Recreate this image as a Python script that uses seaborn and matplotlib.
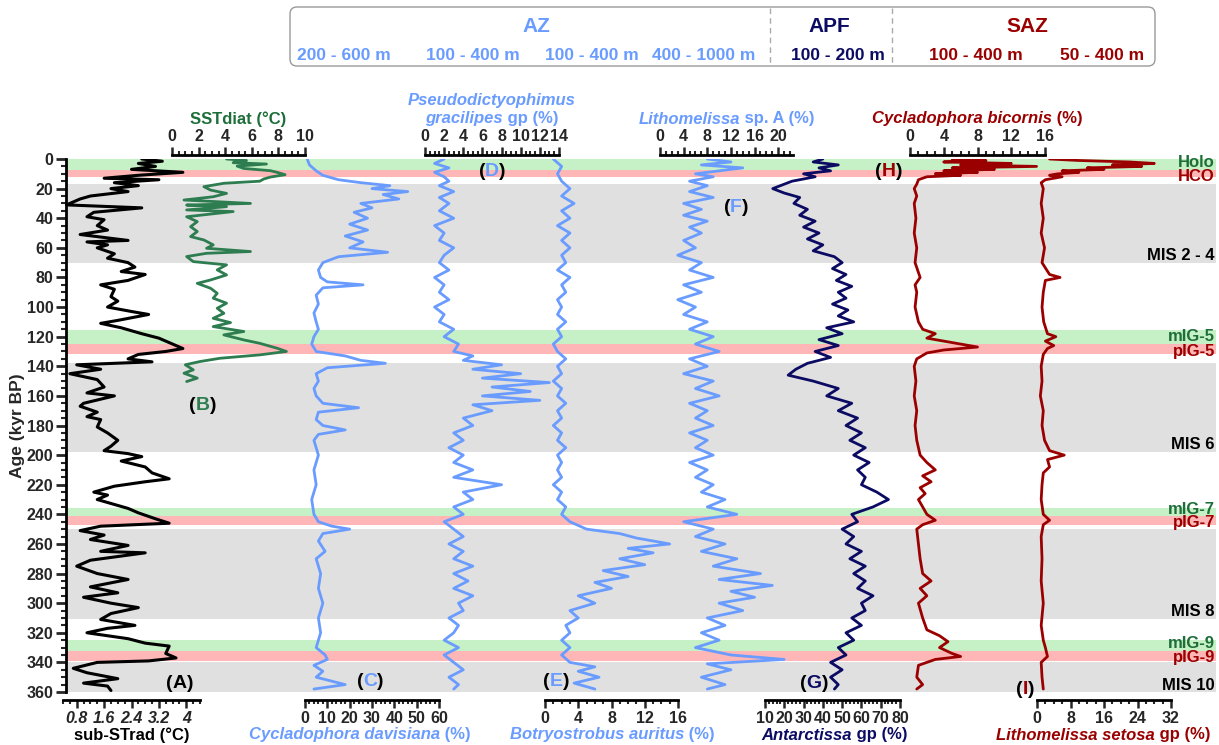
import numpy as np
import pandas as pd
import matplotlib
matplotlib.use('Agg')
import matplotlib.pyplot as plt
import seaborn as sns
from matplotlib.patches import FancyBboxPatch
from matplotlib.lines import Line2D
from matplotlib.ticker import MultipleLocator
from matplotlib.transforms import IdentityTransform, blended_transform_factory

# ---------------- data (ages in kyr BP) ----------------
age_a = [0, 1.5, 3, 5, 7, 9, 11, 13, 14, 16, 18, 20, 22, 25, 27, 31, 33, 36, 39, 41, 45, 48, 51, 55, 56,
         58, 60, 64, 67, 70, 73, 76, 78, 82, 85, 88, 93, 96, 100, 103, 105, 109, 111, 114, 118, 121, 124,
         128, 130, 132, 135, 137, 139, 142, 145, 149, 154, 158, 160, 165, 167, 171, 174, 176, 181, 185,
         190, 194, 197, 199, 201, 204, 208, 212, 216, 218, 221, 225, 227, 230, 234, 236, 239, 243, 246,
         248, 251, 254, 257, 261, 265, 266, 271, 275, 280, 284, 289, 293, 296, 300, 303, 307, 311, 315,
         317, 320, 324, 327, 329, 334, 337, 339, 340, 344, 347, 351, 354, 356, 359]
sst_a = [2.7, 3.3, 2.6, 3.1, 2.4, 3.9, 2.6, 1.6, 3.2, 1.9, 2.6, 1.8, 2.3, 1.2, 0.9, 0.5, 2.7, 1.3, 1.1, 1.6,
         1.4, 1.7, 0.9, 2.3, 1.1, 1.7, 1.4, 1.9, 1.7, 2.3, 2.5, 2.1, 2.8, 2.3, 1.5, 1.9, 1.8, 2.0, 1.7,
         2.4, 2.9, 2.0, 1.5, 2.1, 2.7, 3.2, 3.5, 3.9, 3.4, 2.6, 2.3, 3.0, 0.8, 1.5, 0.6, 1.4, 1.6, 1.1,
         1.9, 1.0, 0.9, 1.4, 1.1, 1.5, 1.4, 1.7, 2.0, 1.8, 1.6, 2.3, 2.7, 2.1, 2.8, 3.0, 3.5, 2.8, 1.9,
         1.3, 1.7, 1.4, 2.0, 2.3, 2.6, 3.1, 3.5, 1.5, 0.9, 1.6, 1.2, 2.3, 1.5, 2.8, 1.2, 0.8, 1.4, 2.3,
         1.2, 2.0, 1.0, 1.8, 2.6, 1.8, 1.5, 2.5, 1.7, 1.1, 2.3, 2.8, 3.5, 3.4, 3.7, 2.9, 1.4, 0.7, 1.1,
         2.0, 1.0, 1.7, 1.8]

age_b = [0, 1, 2.5, 3.4, 4.8, 6.4, 7.9, 9, 10.6, 12.2, 13.5, 15, 16.4, 18.7, 21, 23.2, 25.5, 27.7, 30,
         31.1, 32.2, 34.4, 35.5, 39, 42.3, 45.7, 49, 52.4, 54.7, 58, 60.3, 62.5, 63.7, 65.9, 69.3, 71.5,
         74.9, 78.3, 81.7, 84, 87.3, 90.7, 94, 97.4, 100.8, 104.2, 107.6, 110.5, 113.2, 116.5, 118.8,
         122.2, 124.5, 127.8, 130, 132.3, 134.6, 136.8, 139, 142.4, 144.7, 148, 150.3]
sst_b = [4.1, 5.6, 4.6, 7.1, 4.9, 5.4, 7.4, 7.9, 8.5, 7.4, 6.9, 6.6, 3.9, 2.4, 2.9, 4.1, 3.1, 0.9, 5.9,
         1.1, 4.1, 1.1, 4.6, 1.1, 1.9, 1.4, 1.9, 1.4, 2.4, 3.1, 2.6, 5.9, 2.6, 1.1, 1.6, 4.1, 3.4, 4.1,
         2.9, 1.9, 2.9, 3.4, 3.1, 4.1, 3.4, 3.9, 3.1, 4.4, 3.1, 5.4, 3.9, 5.4, 6.6, 7.9, 8.6, 6.6, 3.6,
         2.1, 1.0, 1.6, 0.9, 1.9, 1.1]

age_c = [0, 4, 8, 11, 14, 16, 18, 20, 22, 24, 27, 30, 33, 36, 40, 44, 48, 52, 56, 60, 63, 66, 70, 75, 80,
         83, 85, 87, 92, 98, 104, 110, 115, 120, 125, 130, 133, 136, 138, 141, 145, 150, 155, 160, 165,
         168, 171, 176, 180, 183, 186, 190, 195, 200, 210, 220, 230, 240, 245, 248, 250, 253, 258, 265,
         270, 280, 290, 300, 310, 320, 330, 335, 338, 342, 346, 350, 355, 358]
pct_c = [1, 2, 5, 8, 15, 25, 38, 30, 46, 35, 42, 25, 30, 22, 28, 20, 28, 18, 26, 20, 37, 15, 8, 6, 7, 10,
         26, 8, 5, 6, 4, 5, 6, 4, 3, 5, 18, 25, 36, 10, 5, 6, 4, 5, 8, 24, 6, 5, 8, 18, 6, 4, 5, 6, 4, 5,
         3, 4, 6, 12, 20, 8, 6, 9, 5, 7, 6, 8, 6, 7, 5, 9, 10, 4, 8, 5, 18, 4]

age_d = [0, 3, 6, 9, 12, 15, 18, 22, 26, 30, 35, 40, 45, 50, 55, 60, 65, 70, 75, 80, 85, 90, 95, 100, 105,
         110, 115, 120, 125, 130, 133, 136, 139, 142, 145, 148, 151, 154, 157, 160, 163, 166, 170, 175,
         180, 185, 190, 195, 200, 205, 210, 215, 220, 225, 230, 235, 240, 245, 250, 255, 260, 265, 270,
         275, 280, 285, 290, 295, 300, 305, 310, 315, 320, 325, 330, 335, 340, 345, 350, 355, 358]
pct_d = [2, 1, 2.5, 1, 2, 2.5, 1.5, 3, 1.5, 2.5, 1.5, 3, 1, 2, 1.5, 3, 2, 1.5, 2.5, 1, 2, 1.5, 2.5, 1, 2,
         1.5, 3, 2, 3.5, 3, 5, 4, 8, 5, 10, 6, 13, 7, 11, 6, 12, 5, 7, 4, 5, 3, 4, 2.5, 4, 3, 5, 3, 8, 4, 5,
         3, 4, 2, 3, 4, 2.5, 4, 3, 5, 3, 4.5, 3, 5, 3.5, 4, 2.5, 3.5, 3, 2, 3.5, 2, 3, 4, 2.5, 3.5, 3]

age_e = [0, 5, 10, 15, 20, 25, 30, 35, 40, 45, 50, 55, 60, 65, 70, 75, 80, 85, 90, 95, 100, 105, 110, 115,
         120, 125, 130, 135, 140, 145, 150, 155, 160, 165, 170, 175, 180, 185, 190, 195, 200, 205, 210,
         215, 220, 225, 230, 235, 240, 245, 250, 253, 256, 260, 263, 266, 270, 274, 278, 282, 286, 290,
         295, 300, 305, 310, 315, 320, 325, 330, 335, 340, 343, 346, 350, 354, 358]
pct_e = [1, 2, 1.5, 2, 3, 2, 3.5, 2, 3, 1.5, 3, 2, 3, 2, 2.5, 1.5, 3, 2, 2.5, 1.5, 2, 1.5, 2.5, 1.5, 2, 1,
         1.5, 2.5, 1.5, 2, 1, 2, 1.5, 2.5, 1.5, 2, 1, 2, 1.5, 2.5, 1.5, 2, 1.5, 2, 1, 2, 1.5, 2.5, 2, 3,
         5, 9, 11, 15, 10, 13, 9, 12, 7, 10, 6, 8, 4, 6, 3, 4, 2.5, 3, 2, 3, 2, 3, 6, 4, 6.5, 3.5, 6]

age_f = [0, 2, 4, 6, 8, 10, 12, 15, 18, 22, 26, 30, 34, 38, 42, 46, 50, 55, 60, 65, 70, 75, 80, 85, 90, 95,
         100, 105, 110, 115, 120, 125, 130, 135, 140, 145, 150, 155, 160, 165, 170, 175, 180, 185, 190,
         195, 200, 205, 210, 215, 220, 225, 230, 235, 240, 245, 250, 255, 260, 265, 270, 275, 280, 284,
         288, 292, 296, 300, 305, 310, 315, 320, 325, 330, 335, 338, 341, 345, 350, 355, 358]
pct_f = [8, 12, 7, 14, 10, 6, 9, 5, 8, 5, 9, 4, 7, 4, 8, 5, 7, 4, 6, 3, 7, 5, 9, 4, 7, 3, 6, 4, 8, 5, 9, 6,
         10, 5, 8, 4, 9, 6, 10, 5, 8, 6, 9, 5, 8, 6, 9, 5, 8, 6, 9, 7, 11, 8, 13, 4, 9, 6, 11, 7, 13, 9,
         17, 10, 19, 12, 16, 10, 14, 8, 11, 7, 10, 6, 12, 21, 8, 12, 7, 11, 8]

age_g = [0, 2, 4, 6, 8, 10, 12, 15, 18, 20, 23, 26, 30, 34, 38, 42, 46, 50, 54, 58, 62, 66, 70, 74, 78, 82,
         86, 90, 94, 98, 102, 106, 110, 114, 118, 122, 126, 130, 134, 138, 142, 146, 150, 155, 160, 165,
         170, 175, 180, 185, 190, 195, 200, 205, 210, 215, 220, 225, 230, 235, 240, 245, 250, 255, 260,
         265, 270, 275, 280, 285, 290, 295, 300, 305, 310, 315, 320, 325, 330, 335, 340, 345, 350, 355, 358]
pct_g = [40, 35, 48, 38, 44, 30, 36, 24, 18, 14, 20, 28, 25, 32, 28, 36, 30, 38, 32, 40, 35, 46, 50, 45,
         52, 47, 55, 48, 52, 45, 53, 48, 56, 42, 50, 38, 48, 36, 44, 32, 26, 22, 35, 48, 42, 55, 48, 58,
         52, 60, 54, 62, 56, 64, 58, 62, 60, 68, 74, 66, 55, 58, 50, 56, 52, 60, 54, 62, 56, 62, 58, 66,
         60, 62, 55, 60, 52, 56, 48, 52, 44, 50, 44, 48, 46]

age_h = [0, 1, 2, 3, 4, 5, 6, 7, 8, 9, 10, 11, 12, 14, 17, 20, 25, 30, 40, 50, 60, 70, 80, 85, 90, 100, 110,
         115, 118, 121, 124, 127, 129, 131, 135, 140, 150, 160, 170, 180, 190, 200, 205, 210, 214, 218,
         222, 226, 230, 235, 240, 244, 247, 250, 260, 270, 280, 285, 290, 295, 300, 310, 318, 322, 326,
         330, 334, 336, 338, 342, 350, 355, 358]
pct_h = [5, 9, 4, 12, 6, 15, 5, 10, 4, 8, 3, 6, 2, 1, 0.8, 0.5, 0.8, 0.5, 0.7, 0.5, 0.8, 0.6, 1.2, 0.6, 0.8,
         0.6, 1, 1.5, 3, 2, 5, 8, 4, 2, 0.8, 0.5, 0.7, 0.5, 0.8, 0.6, 0.8, 1.2, 2, 3, 1.5, 2.5, 1.2, 1.8,
         1, 1.5, 2, 3, 1.5, 0.8, 1, 1.2, 1.5, 2.5, 1.2, 2, 1, 1.5, 2, 3.5, 4.5, 3.5, 5, 6, 3, 1, 0.8, 1.5,
         0.8]

age_i = [0, 1, 2, 3, 4, 5, 6, 7, 8, 9, 10, 11, 12, 14, 16, 20, 30, 40, 50, 60, 70, 78, 80, 82, 90, 100, 110,
         118, 120, 123, 126, 128, 132, 140, 150, 160, 170, 180, 190, 197, 200, 203, 208, 212, 220, 230,
         240, 244, 247, 255, 270, 285, 300, 315, 325, 330, 336, 340, 350, 358]
pct_i = [3, 10, 22, 28, 18, 25, 12, 16, 6, 10, 5, 3, 6, 2, 1, 1.5, 1, 1.5, 1, 1.8, 1.2, 3, 5.5, 2, 1.5,
         1.2, 1.6, 2.5, 4.5, 2, 4, 2.5, 1.5, 1, 1.2, 0.8, 1.5, 1.2, 1.8, 3, 6.5, 2.5, 3, 1.5, 1.2, 1, 1.5,
         3, 1.5, 1, 1.2, 1, 1.5, 1, 1.5, 2, 2.5, 1, 1.2, 1.5]

# climate intervals: (start, end, kind, label, label age)
bands = [(0, 7.4, 'g', 'Holo', 2.5), (7.4, 12.2, 'p', 'HCO', 12), (17, 70, 'k', 'MIS 2 - 4', 65),
         (115.5, 125, 'g', 'mIG-5', 120), (125, 132, 'p', 'pIG-5', 130), (138, 198, 'k', 'MIS 6', 192.5),
         (236, 241, 'g', 'mIG-7', 237), (241, 247, 'p', 'pIG-7', 245.5), (250, 311, 'k', 'MIS 8', 305.5),
         (325, 332, 'g', 'mIG-9', 327), (332, 339, 'p', 'pIG-9', 337), (340, 360, 'k', 'MIS 10', 355.5)]

# ---------------- style ----------------
sns.set_style("white")
plt.rcParams['font.family'] = ['Liberation Sans', 'DejaVu Sans']
plt.rcParams['font.weight'] = 'bold'

BLUE = '#6a9cff'
NAVY = '#0b0b63'
RED = '#9b0000'
GREEN = '#2e7d50'
GTXT = '#1e6e3a'
band_fill = {'g': '#c6f0c6', 'p': '#ffb6b6', 'k': '#e0e0e0'}
band_txt = {'g': GTXT, 'p': RED, 'k': 'black'}

W, H = 1219, 745
fig = plt.figure(figsize=(W / 100, H / 100), dpi=100)
PIX = IdentityTransform()

Y_TOP, Y_BOT = 159, 692
TICK_FS = 11.5
TITLE_FS = 12


def rect(x0, x1):
    return [x0 / W, 1 - Y_BOT / H, (x1 - x0) / W, (Y_BOT - Y_TOP) / H]


def rich(px, py, parts, size=TITLE_FS):
    # parts: (text, color, style) pieces drawn side by side, centred on px
    r = fig.canvas.get_renderer()
    objs = [fig.text(0, 0, s, transform=PIX, fontsize=size, color=c, fontstyle=st,
                     fontweight='bold', va='center', ha='left') for s, c, st in parts]
    ws = [o.get_window_extent(r).width for o in objs]
    x = px - sum(ws) / 2
    for o, w in zip(objs, ws):
        o.set_position((x, H - py))
        x += w


# base axes: bands + age axis
base = fig.add_axes(rect(66, 1216))
base.set_xlim(0, 1)
base.set_ylim(360, 0)
tr = blended_transform_factory(base.transAxes, base.transData)
for a0, a1, k, lab, la in bands:
    base.axhspan(a0, a1, color=band_fill[k], lw=0)
    base.text(0.999, la, lab, transform=tr, ha='right', va='center', fontsize=12,
              color=band_txt[k], fontweight='bold')
for s in ['top', 'right', 'bottom']:
    base.spines[s].set_visible(False)
base.spines['left'].set_linewidth(2)
base.spines['left'].set_color('black')
base.set_xticks([])
base.yaxis.set_major_locator(MultipleLocator(20))
base.yaxis.set_minor_locator(MultipleLocator(5))
base.tick_params(axis='y', which='major', length=7, width=2, labelsize=TICK_FS, pad=2, left=True)
base.tick_params(axis='y', which='minor', length=3.5, width=1.5, left=True)
base.set_ylabel('Age (kyr BP)', fontsize=12.5, fontweight='bold', labelpad=1)

panels = [
    dict(x=(63, 200), lim=(0.4, 4.4), maj=0.8, mnr=0.2, side='bottom', col='black',
         a=age_a, v=sst_a, lab=[('sub-STrad (°C)', 'black', 'normal')], lx=132, lw=2.2),
    dict(x=(172, 305), lim=(0, 10), maj=2, mnr=0.5, side='top', col=GREEN,
         a=age_b, v=sst_b, lab=[('SSTdiat (°C)', GTXT, 'normal')], lx=238, lw=2),
    dict(x=(305, 439), lim=(0, 60), maj=10, mnr=2, side='bottom', col=BLUE,
         a=age_c, v=pct_c, lab=[('Cycladophora davisiana', BLUE, 'italic'), (' (%)', BLUE, 'normal')],
         lx=360, lw=2),
    dict(x=(425, 559), lim=(0, 14), maj=2, mnr=0.5, side='top', col=BLUE,
         a=age_d, v=pct_d, lab=None, lx=492, lw=2),
    dict(x=(545, 678), lim=(0, 16), maj=4, mnr=1, side='bottom', col=BLUE,
         a=age_e, v=pct_e, lab=[('Botryostrobus auritus', BLUE, 'italic'), (' (%)', BLUE, 'normal')],
         lx=612, lw=2),
    dict(x=(660, 793), lim=(0, 22.5), maj=4, mnr=1, side='top', col=BLUE,
         a=age_f, v=pct_f, lab=[('Lithomelissa', BLUE, 'italic'), (' sp. A (%)', BLUE, 'normal')],
         lx=727, lw=2),
    dict(x=(765, 900), lim=(10, 80), maj=10, mnr=2, side='bottom', col=NAVY,
         a=age_g, v=pct_g, lab=[('Antarctissa', NAVY, 'italic'), (' gp (%)', NAVY, 'normal')],
         lx=834, lw=2),
    dict(x=(910, 1045), lim=(0, 16), maj=4, mnr=1, side='top', col=RED,
         a=age_h, v=pct_h, lab=[('Cycladophora bicornis', RED, 'italic'), (' (%)', RED, 'normal')],
         lx=977, lw=2),
    dict(x=(1037, 1171), lim=(0, 32), maj=8, mnr=2, side='bottom', col=RED,
         a=age_i, v=pct_i, lab=[('Lithomelissa setosa', RED, 'italic'), (' gp (%)', RED, 'normal')],
         lx=1103, lw=2),
]

for p in panels:
    ax = fig.add_axes(rect(*p['x']), facecolor='none')
    df = pd.DataFrame({'age': p['a'], 'val': p['v']})
    sns.lineplot(data=df, x='val', y='age', ax=ax, orient='y', sort=False, estimator=None,
                 color=p['col'], lw=p['lw'])
    ax.set_xlim(*p['lim'])
    ax.set_ylim(360, 0)
    ax.set_yticks([])
    ax.set_xlabel('')
    ax.set_ylabel('')
    side = p['side']
    for s in ['top', 'bottom', 'left', 'right']:
        ax.spines[s].set_visible(s == side)
    ax.spines[side].set_linewidth(2)
    ax.spines[side].set_color('black')
    ax.spines[side].set_position(('outward', 3 if side == 'top' else 6))
    ax.xaxis.set_ticks_position(side)
    ax.xaxis.set_major_locator(MultipleLocator(p['maj']))
    ax.xaxis.set_minor_locator(MultipleLocator(p['mnr']))
    ax.tick_params(axis='x', which='major', length=6, width=1.8, labelsize=TICK_FS, pad=1.5)
    ax.tick_params(axis='x', which='minor', length=3, width=1.5)
    if p['col'] == 'black':
        ticks = [0.8, 1.6, 2.4, 3.2, 4.0]
        ax.set_xticks(ticks, labels=['0.8', '1.6', '2.4', '3.2', '4'], fontstyle='italic')
    if p['lab'] is not None:
        rich(p['lx'], 119 if side == 'top' else 735, p['lab'])

# two-line title of panel D
rich(492, 101, [('Pseudodictyophimus', BLUE, 'italic')])
rich(492, 119, [('gracilipes', BLUE, 'italic'), (' gp (%)', BLUE, 'normal')])

# panel letters
letters = [('A', 'black', 180, 683), ('B', GREEN, 203, 405), ('C', BLUE, 370, 681),
           ('D', BLUE, 492, 172), ('E', BLUE, 556, 682), ('F', BLUE, 736, 208),
           ('G', NAVY, 814, 683), ('H', RED, 889, 172), ('I', RED, 1025, 689)]
for L, c, x, y in letters:
    rich(x, y, [('(', 'black', 'normal'), (L, c, 'normal'), (')', 'black', 'normal')], size=14)

# top legend box with depth habitats
box = FancyBboxPatch((290, H - 66), 865, 59, boxstyle='round,pad=0,rounding_size=7',
                     transform=PIX, fc='white', ec='#9a9a9a', lw=1.0)
fig.add_artist(box)
for xv in [770, 892]:
    fig.add_artist(Line2D([xv, xv], [H - 8, H - 65], transform=PIX, color='#aaaaaa',
                          lw=1, ls=(0, (4, 3))))
zones = [('AZ', BLUE, 536), ('APF', NAVY, 829), ('SAZ', RED, 1027)]
for t, c, x in zones:
    fig.text(x, H - 27, t, transform=PIX, ha='center', va='center', fontsize=15,
             color=c, fontweight='bold')
depths = [('200 - 600 m', BLUE, 344), ('100 - 400 m', BLUE, 473), ('100 - 400 m', BLUE, 592),
          ('400 - 1000 m', BLUE, 704), ('100 - 200 m', NAVY, 838), ('100 - 400 m', RED, 976),
          ('50 - 400 m', RED, 1102)]
for t, c, x in depths:
    fig.text(x, H - 55, t, transform=PIX, ha='center', va='center', fontsize=12.5,
             color=c, fontweight='bold')

fig.savefig('out.png', dpi=100)
